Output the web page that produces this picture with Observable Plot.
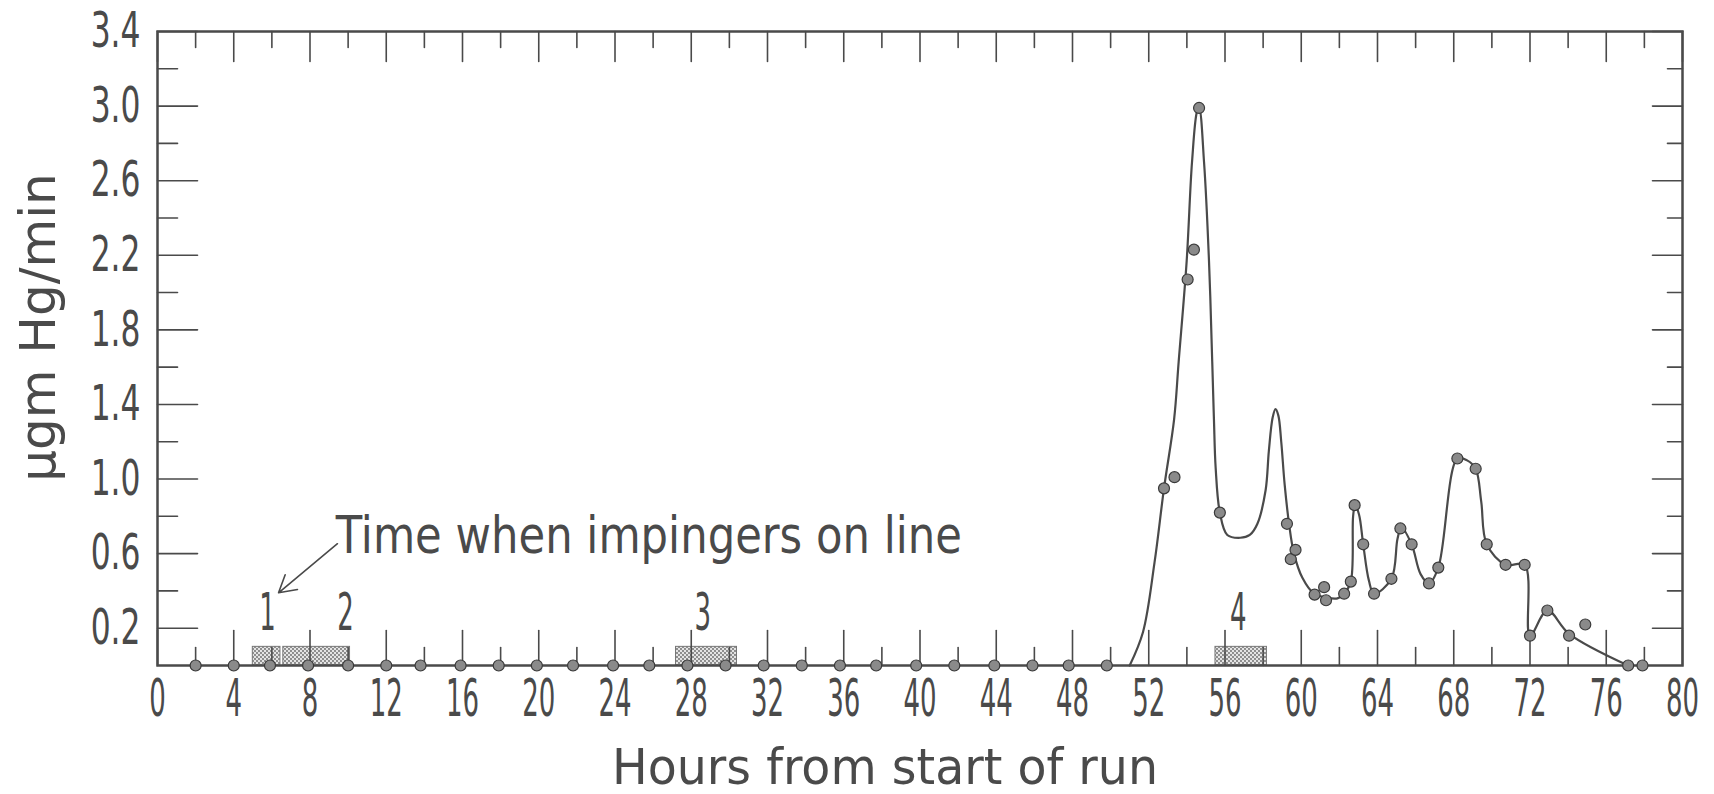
<!DOCTYPE html>
<html><head><meta charset="utf-8">
<script src="https://cdn.jsdelivr.net/npm/d3@7"></script>
<script src="https://cdn.jsdelivr.net/npm/@observablehq/plot@0.6"></script>
<style>body{margin:0;background:#fff}</style>
</head><body><div id="chart"></div>
<script>
// ---- data ----
const xTickLabels = [0, 4, 8, 12, 16, 20, 24, 28, 32, 36, 40, 44, 48, 52, 56, 60, 64, 68, 72, 76, 80];
const xMinorTicks = [2, 6, 10, 14, 18, 22, 26, 30, 34, 38, 42, 46, 50, 54, 58, 62, 66, 70, 74, 78];
const yTickLabels = [0.2, 0.6, 1.0, 1.4, 1.8, 2.2, 2.6, 3.0, 3.4];
const yMinorTicks = [0.4, 0.8, 1.2, 1.6, 2.0, 2.4, 2.8, 3.2];

// measured points (hours, µgm Hg/min)
const pointHours = [2, 4, 5.9, 7.9, 10, 12, 13.8, 15.9, 17.9, 19.9, 21.8, 23.9, 25.8, 27.8, 29.8, 31.8, 33.8, 35.8, 37.7, 39.8, 41.8, 43.9, 45.9, 47.8, 49.8,
  52.8, 53.35, 54.04, 54.37, 54.64, 55.73, 59.25, 59.45, 59.7, 60.7, 61.2, 61.3, 62.25, 62.6, 62.8, 63.25, 63.82, 64.73, 65.2, 65.79, 66.7, 67.19, 68.19, 69.15, 69.73, 70.72, 71.72, 72.0, 72.91, 74.05, 74.9, 77.15, 77.9];
const pointValues = [0, 0, 0, 0, 0, 0, 0, 0, 0, 0, 0, 0, 0, 0, 0, 0, 0, 0, 0, 0, 0, 0, 0, 0, 0,
  0.95, 1.01, 2.07, 2.23, 2.99, 0.82, 0.76, 0.57, 0.62, 0.38, 0.42, 0.35, 0.385, 0.45, 0.86, 0.65, 0.385, 0.465, 0.735, 0.65, 0.44, 0.525, 1.11, 1.055, 0.65, 0.54, 0.54, 0.16, 0.295, 0.16, 0.22, 0, 0];

// hand-drawn fitted curve
const curveHours = [51.0, 51.7, 52.3, 52.8, 53.33, 53.57, 53.99, 54.27, 54.53, 54.64, 54.9, 55.16, 55.33, 55.42, 55.51, 55.73, 56.12, 56.8, 57.3, 57.7, 58.13, 58.3, 58.5, 58.65, 58.8, 58.95, 59.13, 59.36, 59.62, 60.06, 60.67, 61.28, 61.9, 62.25, 62.6, 62.72, 62.82, 63.03, 63.25, 63.55, 63.82, 64.73, 65.05, 65.25, 65.79, 66.26, 66.7, 67.19, 68.19, 68.7, 69.15, 69.44, 69.73, 70.72, 71.72, 72.0, 72.91, 74.05, 77.15];
const curveValues = [0, 0.18, 0.55, 0.95, 1.32, 1.63, 2.17, 2.70, 2.97, 2.99, 2.70, 2.17, 1.63, 1.32, 1.06, 0.82, 0.70, 0.685, 0.70, 0.76, 0.94, 1.15, 1.33, 1.375, 1.34, 1.2, 0.97, 0.76, 0.60, 0.47, 0.385, 0.365, 0.36, 0.385, 0.45, 0.80, 0.86, 0.81, 0.65, 0.455, 0.385, 0.465, 0.68, 0.74, 0.65, 0.49, 0.44, 0.525, 1.11, 1.10, 1.055, 0.88, 0.65, 0.54, 0.54, 0.16, 0.295, 0.17, 0];

// impinger on-line periods
const impStart = [5.0, 6.6, 27.2, 55.5];
const impEnd = [6.45, 10.1, 30.4, 58.2];
const impTop = 0.1;
const impLabels = ["1", "2", "3", "4"];
const impLabelHours = [5.77, 9.86, 28.6, 56.7];
const impLabelValue = 0.28;

const noteText = "Time when impingers on line";
const noteHour = 9.35, noteValue = 0.69;
const arrowFrom = [9.44, 0.653], arrowTo = [6.35, 0.39];

const xLabel = "Hours from start of run";
const yLabel = "μgm Hg/min";

// ---- chart ----
const ink = "#4a4a4a";
const font = "DejaVu Sans";
const points = pointHours.map((h, i) => ({h, v: pointValues[i]}));
const curve = curveHours.map((h, i) => ({h, v: curveValues[i]}));
const rects = impStart.map((s, i) => ({s, e: impEnd[i]}));
const labels = impLabels.map((t, i) => ({t, h: impLabelHours[i]}));
const tickShape = {draw(ctx, l) { ctx.moveTo(0, 0); ctx.lineTo(0, -l); }};
const tick = (data, o) => Plot.vector(data, {anchor: "start", shape: tickShape, stroke: ink, strokeWidth: 1.6, ...o});

const svg = Plot.plot({
  width: 1714, height: 794,
  marginLeft: 157, marginRight: 32, marginTop: 31, marginBottom: 129,
  style: {fontFamily: font, background: "white"},
  x: {domain: [0, 80]},
  y: {domain: [0, 3.4]},
  marks: [
    Plot.rect(rects, {x1: "s", x2: "e", y1: 0, y2: impTop, fill: "url(#stipple)", stroke: "#777", strokeWidth: 1}),
    tick(xTickLabels, {x: d => d, y: 0, length: 35, rotate: 0}),
    tick(xMinorTicks, {x: d => d, y: 0, length: 18, rotate: 0}),
    tick(xTickLabels, {x: d => d, y: 3.4, length: 30, rotate: 180}),
    tick(xMinorTicks, {x: d => d, y: 3.4, length: 16, rotate: 180}),
    tick(yTickLabels, {y: d => d, x: 0, length: 40, rotate: 90}),
    tick(yMinorTicks, {y: d => d, x: 0, length: 20, rotate: 90}),
    tick(yTickLabels, {y: d => d, x: 80, length: 30, rotate: -90}),
    tick(yMinorTicks, {y: d => d, x: 80, length: 15, rotate: -90}),
    Plot.frame({stroke: ink, strokeWidth: 2.5}),
    Plot.line(curve, {x: "h", y: "v", curve: "catmull-rom", stroke: ink, strokeWidth: 2.2}),
    Plot.dot(points, {x: "h", y: "v", r: 5.5, fill: "#8a8a8a", stroke: "#3a3a3a", strokeWidth: 1.2}),
    Plot.arrow([0], {x1: arrowFrom[0], y1: arrowFrom[1], x2: arrowTo[0], y2: arrowTo[1], stroke: ink, strokeWidth: 1.6, headLength: 18}),
    Plot.axisX(xTickLabels, {anchor: "bottom", tickSize: 0, tickPadding: 14, fontSize: 52, fill: ink, label: null, tickFormat: d => String(d)}),
    Plot.axisY(yTickLabels, {anchor: "left", tickSize: 0, tickPadding: 17, fontSize: 49, fill: ink, label: null, tickFormat: d => d.toFixed(1)}),
    Plot.text(labels, {x: "h", y: impLabelValue, text: "t", fontSize: 52, fill: ink}),
    Plot.text([noteText], {x: noteHour, y: noteValue, textAnchor: "start", fontSize: 51, fill: ink}),
    Plot.text([xLabel], {frameAnchor: "bottom", lineAnchor: "middle", textAnchor: "middle", dy: 102, dx: -35, fontSize: 50, fill: ink}),
    Plot.text([yLabel], {frameAnchor: "left", textAnchor: "middle", lineAnchor: "middle", rotate: -90, dx: -119, dy: -21, fontSize: 50, fill: ink})
  ]
});

// stipple pattern for the impinger bars
const defs = d3.select(svg).insert("defs", ":first-child");
const pat = defs.append("pattern").attr("id", "stipple").attr("patternUnits", "userSpaceOnUse").attr("width", 4).attr("height", 4);
pat.append("rect").attr("width", 4).attr("height", 4).attr("fill", "#e4e4e4");
pat.append("circle").attr("cx", 1).attr("cy", 1).attr("r", 0.9).attr("fill", "#666");
pat.append("circle").attr("cx", 3).attr("cy", 3).attr("r", 0.9).attr("fill", "#666");

// horizontal squeeze to mimic the condensed lettering (chosen by text content)
const squeezeFor = (t) => t === noteText ? 0.85 : t === xLabel ? 0.95 : t === yLabel ? 1.0 : t.includes(".") ? 0.64 : 0.5;
d3.select(svg).selectAll("text").each(function() {
  const s = squeezeFor(this.textContent);
  if (s === 1) return;
  const t = this.getAttribute("transform");
  if (t) this.setAttribute("transform", t + ` scale(${s},1)`);
  else {
    const x = +this.getAttribute("x") || 0, y = +this.getAttribute("y") || 0;
    this.removeAttribute("x"); this.removeAttribute("y");
    this.setAttribute("transform", `translate(${x},${y}) scale(${s},1)`);
  }
});

document.getElementById("chart").appendChild(svg);
</script>
</body></html>
